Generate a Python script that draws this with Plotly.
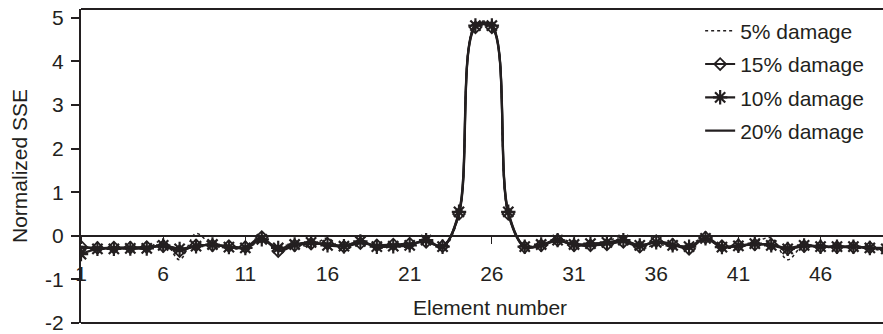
import plotly.graph_objects as go

elements = list(range(1, 51))

dmg_5 = [-0.30, -0.27, -0.30, -0.26, -0.30, -0.10, -0.55, 0.05, -0.22, -0.28,
         -0.30, -0.12, -0.25, -0.18, -0.25, -0.05, -0.35, -0.10, -0.28, -0.25,
         -0.25, -0.05, -0.28, 0.48, 4.85, 4.85, 0.48, -0.22, -0.25, -0.05,
         -0.18, -0.25, -0.12, -0.05, -0.30, -0.20, -0.25, -0.20, -0.05, -0.28,
         -0.25, -0.15, -0.05, -0.55, -0.20, -0.28, -0.25, -0.28, -0.30, -0.35]
dmg_15 = [-0.25, -0.28, -0.27, -0.27, -0.26, -0.24, -0.35, -0.22, -0.22, -0.24,
          -0.26, -0.03, -0.35, -0.22, -0.18, -0.18, -0.25, -0.17, -0.22, -0.20,
          -0.18, -0.14, -0.24, 0.50, 4.78, 4.78, 0.50, -0.26, -0.22, -0.10,
          -0.22, -0.22, -0.20, -0.14, -0.25, -0.12, -0.20, -0.30, -0.04, -0.24,
          -0.22, -0.20, -0.20, -0.30, -0.24, -0.25, -0.26, -0.26, -0.27, -0.32]
dmg_10 = [-0.42, -0.30, -0.30, -0.29, -0.29, -0.22, -0.30, -0.24, -0.20, -0.26,
          -0.28, -0.08, -0.28, -0.20, -0.15, -0.22, -0.24, -0.13, -0.25, -0.24,
          -0.22, -0.10, -0.25, 0.55, 4.82, 4.82, 0.55, -0.25, -0.20, -0.10,
          -0.20, -0.18, -0.15, -0.10, -0.22, -0.15, -0.22, -0.25, -0.06, -0.26,
          -0.23, -0.18, -0.22, -0.30, -0.22, -0.25, -0.25, -0.25, -0.28, -0.30]
dmg_20 = [-0.28, -0.28, -0.28, -0.27, -0.27, -0.22, -0.30, -0.25, -0.20, -0.25,
          -0.27, -0.10, -0.30, -0.20, -0.17, -0.20, -0.22, -0.15, -0.25, -0.22,
          -0.20, -0.12, -0.25, 0.52, 4.80, 4.80, 0.52, -0.25, -0.22, -0.12,
          -0.20, -0.20, -0.17, -0.12, -0.22, -0.15, -0.20, -0.25, -0.08, -0.25,
          -0.23, -0.20, -0.20, -0.28, -0.22, -0.24, -0.25, -0.25, -0.27, -0.28]

x_ticks = [1, 6, 11, 16, 21, 26, 31, 36, 41, 46]
y_ticks = [-2, -1, 0, 1, 2, 3, 4, 5]

FONT = "Liberation Sans, Arial, sans-serif"
INK = "#231f20"
FS = 21
y_min, y_max = -2, 5.2

fig = go.Figure()
fig.add_trace(go.Scatter(x=elements, y=dmg_5, name="5% damage", mode="lines",
                         line=dict(color=INK, width=1.5, dash="3px,3px", shape="spline", smoothing=1),
                         legendgroup="a"))
fig.add_trace(go.Scatter(x=elements, y=dmg_15, name="15% damage", mode="lines+markers",
                         line=dict(color=INK, width=2.2, shape="spline", smoothing=1),
                         marker=dict(symbol="diamond-open", size=9, color=INK, line=dict(width=1.8, color=INK)),
                         legendgroup="b"))
fig.add_trace(go.Scatter(x=elements, y=dmg_10, name="10% damage", mode="lines+markers",
                         line=dict(color=INK, width=2.2, shape="spline", smoothing=1),
                         marker=dict(symbol="asterisk-open", size=12, color=INK, line=dict(width=2.2, color=INK)),
                         legendgroup="c"))
fig.add_trace(go.Scatter(x=elements, y=dmg_20, name="20% damage", mode="lines",
                         line=dict(color=INK, width=2.2, shape="spline", smoothing=1),
                         legendgroup="d"))

zero_pos = (0 - y_min) / (y_max - y_min)

fig.update_layout(
    width=883, height=334,
    margin=dict(l=81, r=0, t=9, b=11, autoexpand=False),
    paper_bgcolor="white", plot_bgcolor="white",
    font=dict(family=FONT, size=FS, color=INK),
    showlegend=True,
    legend=dict(x=0.772, y=0.995, xanchor="left", yanchor="top",
                bgcolor="rgba(0,0,0,0)", traceorder="grouped", tracegroupgap=3,
                font=dict(size=FS, color=INK)),
    xaxis=dict(range=[1, 49.8], tickmode="array", tickvals=x_ticks,
               ticktext=[str(v) for v in x_ticks],
               anchor="free", position=zero_pos,
               showline=True, linecolor=INK, linewidth=1.5,
               ticks="outside", ticklen=7, tickwidth=1, tickcolor=INK,
               ticklabelstandoff=12, ticklabeloverflow="allow",
               showgrid=False, zeroline=False),
    yaxis=dict(range=[y_min, y_max], tickmode="array", tickvals=y_ticks,
               ticktext=[str(v) for v in y_ticks],
               showline=True, linecolor=INK, linewidth=2,
               ticks="outside", ticklen=8, tickwidth=1.5, tickcolor=INK,
               ticklabeloverflow="allow", ticklabelstandoff=3,
               showgrid=False, zeroline=False,
               title=dict(text="Normalized SSE", standoff=12, font=dict(size=FS))),
    shapes=[
        dict(type="line", xref="paper", yref="paper", x0=0, x1=1, y0=1, y1=1,
             line=dict(color=INK, width=2)),
        dict(type="line", xref="paper", yref="paper", x0=0, x1=1, y0=0, y1=0,
             line=dict(color=INK, width=2)),
    ],
    annotations=[
        dict(text="Element number", xref="paper", yref="paper", x=0.51, y=0.05,
             showarrow=False, xanchor="center", yanchor="middle",
             font=dict(size=FS, color=INK)),
    ],
)

fig.write_html("out.html")
